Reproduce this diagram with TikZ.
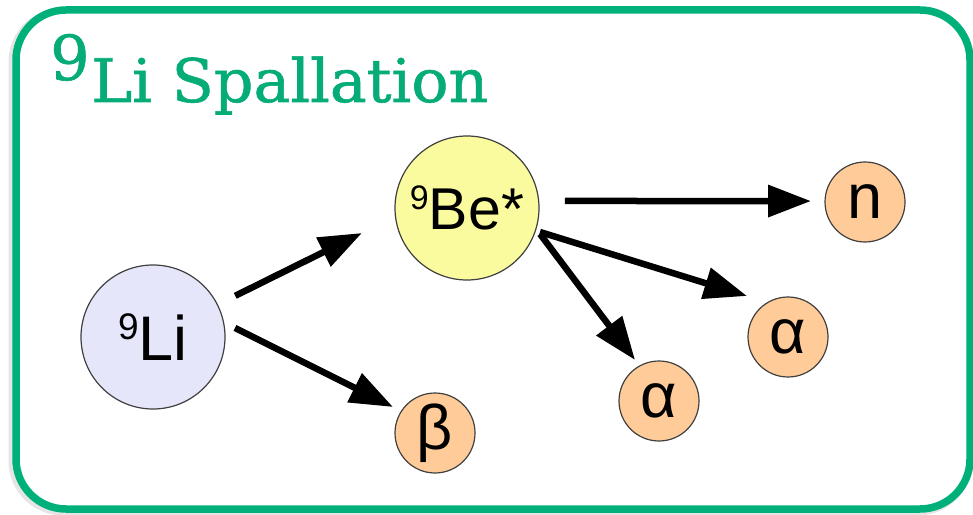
\documentclass[tikz,border=0pt]{standalone}
\usepackage{fontspec}
\setmainfont{Liberation Sans}
\newfontfamily\titlefont{DejaVu Serif}[FakeBold=1]
\usetikzlibrary{arrows.meta}
\definecolor{framegreen}{RGB}{0,176,122}
\definecolor{titlegreen}{RGB}{6,172,120}
\definecolor{lifill}{RGB}{230,230,250}
\definecolor{befill}{RGB}{250,250,158}
\definecolor{orangefill}{RGB}{255,204,153}
\newcommand{\isosup}[2]{\raisebox{#2}{\fontsize{#1}{#1}\selectfont 9}}
\begin{document}
\begin{tikzpicture}[x=1pt,y=1pt,
  frame/.style={draw=framegreen, line width=7.5pt, rounded corners=50pt},
  particle/.style={circle, draw=black!75, line width=1.2pt, inner sep=0pt, outer sep=0pt},
  bignode/.style={particle, minimum size=144pt},
  smallnode/.style={particle, minimum size=80pt, fill=orangefill, font=\fontsize{63}{63}\selectfont},
  arr/.style={line width=6.5pt, -{Triangle[length=43pt,width=31pt]}},
  titletext/.style={anchor=base west, inner sep=0pt, text=titlegreen}]
\useasboundingbox (0,0) rectangle (973,514);
% shadow and frame
\draw[line width=9pt, black, opacity=0.10, rounded corners=50pt] (13,3) rectangle (968,502);
\draw[frame, fill=white] (16,5) rectangle (970,504);
% title
\node[titletext, font=\titlefont\fontsize{62}{62}\selectfont] (nine) at (50,434) {9};
\node[titletext, font=\titlefont\fontsize{60}{60}\selectfont] (title) at (91,412) {\scalebox{1.03}[1]{Li Spallation}};
% particles
\node[bignode, fill=lifill, font=\fontsize{63}{63}\selectfont] (Li) at (153,177) {\isosup{37}{21pt}Li};
\node[bignode, fill=befill, font=\fontsize{59}{59}\selectfont] (Be) at (467,306) {\isosup{34}{20pt}Be*};
\node[smallnode] (beta) at (435,81) {β};
\node[smallnode] (n) at (865,312) {n};
\node[smallnode] (a1) at (788,177) {α};
\node[smallnode] (a2) at (659,113) {α};
% decays
\draw[arr] ([shift={(26.6:92pt)}]Li.center) -- ([shift={(193.4:108pt)}]Be.center);
\draw[arr] ([shift={(6.3:82.5pt)}]Li.center) -- ([shift={(148.2:49.4pt)}]beta.center);
\draw[arr] ([shift={(4.1:98.2pt)}]Be.center) -- ([shift={(179:54pt)}]n.center);
\draw[arr] ([shift={(-18.2:76.8pt)}]Be.center) -- ([shift={(135:58pt)}]a1.center);
\draw[arr] ([shift={(-19.6:77.5pt)}]Be.center) -- ([shift={(120.3:47.5pt)}]a2.center);
\end{tikzpicture}
\end{document}
